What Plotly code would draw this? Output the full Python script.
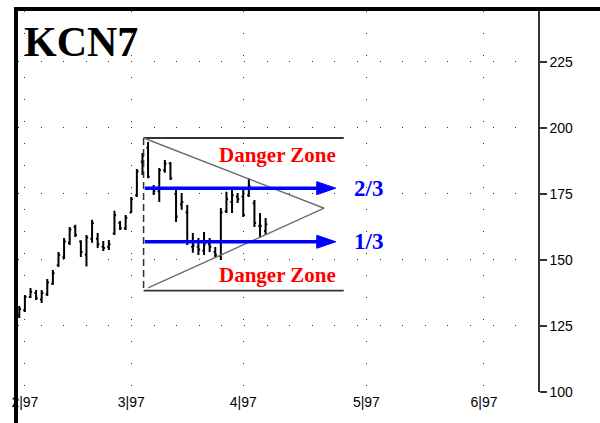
import plotly.graph_objects as go

# daily bars, index 0 = 31 Jan 1997 (trading days)
day = list(range(45))
bar_open = [129, 131, 136, 137.5, 135, 137, 141, 148, 151, 156.5,
            162.5, 157, 152, 158, 158, 155, 155, 160, 164, 162,
            168, 174.5, 187.2, 192.5, 177, 176, 184, 186.5, 175, 171,
            168, 155, 155, 153.5, 156, 153, 151.5, 168.5, 172, 174,
            174, 174.5, 171.5, 163, 161]
bar_high = [132.6, 136.7, 139.4, 138.6, 138.6, 142.8, 146.2, 153.0, 158.3, 162.5,
            163.3, 157.5, 159.5, 165.2, 160.2, 157.2, 157.6, 168.6, 164.8, 167.0,
            173.9, 184.5, 190.5, 194.7, 178.4, 184.8, 187.9, 187.1, 176.5, 175.4,
            170.8, 160.2, 158.3, 160.6, 158.3, 154.9, 169.7, 175.8, 176.5, 175.4,
            176.5, 181.0, 172.7, 167.8, 165.9]
bar_low = [128.0, 130.3, 135.6, 134.8, 133.7, 136.4, 140.5, 147.3, 150.4, 155.7,
           158.7, 151.1, 147.5, 156.5, 154.5, 153.4, 153.8, 159.5, 161.4, 161.4,
           167.8, 173.9, 182.2, 181.0, 174.6, 172.0, 183.0, 180.3, 164.4, 169.0,
           155.7, 152.7, 151.9, 151.9, 153.0, 150.8, 150.0, 167.8, 167.8, 171.6,
           166.3, 173.9, 162.5, 158.3, 159.5]
bar_close = [131.4, 136, 138, 135.5, 137.5, 141.5, 145, 152, 157, 161.5,
             159.5, 153, 158.5, 164, 156, 154.5, 156, 167, 162, 166,
             173, 183.5, 189.5, 181.5, 176, 184, 186.5, 181, 166.5, 172,
             157, 155.5, 154, 156, 155, 152, 168, 173, 174.5, 173,
             167, 178, 164, 163, 163.5]

month_pos = [1, 20, 40, 62, 83]
month_labels = ["2|97", "3|97", "4|97", "5|97", "6|97"]
price_ticks = [100, 125, 150, 175, 200, 225]

# triangle / box drawn on the chart
box_left, box_right = 22.2, 57.95
box_top, box_bottom = 196.2, 138.4
apex_x, apex_y = 54.45, 169.6
low_start_x, low_start_y = 23.0, 139.4

arrow_levels = [177.2, 156.9]
arrow_labels = ["2/3", "1/3"]
arrow_start, arrow_tip = 22.42, 56.53

fig = go.Figure()
fig.add_trace(go.Ohlc(
    x=day, open=bar_open, high=bar_high, low=bar_low, close=bar_close,
    increasing=dict(line=dict(color="black", width=2)),
    decreasing=dict(line=dict(color="black", width=2)),
    tickwidth=0.3, hoverinfo="skip",
))

shapes = []
gray = "#6e6e6e"
shapes.append(dict(type="line", x0=box_left, x1=box_right, y0=box_top, y1=box_top,
                   line=dict(color="#333", width=1.8)))
shapes.append(dict(type="line", x0=box_left, x1=box_right, y0=box_bottom, y1=box_bottom,
                   line=dict(color="#333", width=1.8)))
shapes.append(dict(type="line", x0=box_left, x1=box_left, y0=box_top, y1=box_bottom,
                   line=dict(color="#333", width=1.5, dash="7px,4px")))
shapes.append(dict(type="line", x0=box_left, x1=apex_x, y0=box_top, y1=apex_y,
                   line=dict(color=gray, width=1.4)))
shapes.append(dict(type="line", x0=low_start_x, x1=apex_x, y0=low_start_y, y1=apex_y,
                   line=dict(color=gray, width=1.4)))

for lvl in arrow_levels:
    shapes.append(dict(type="line", x0=arrow_start, x1=arrow_tip - 3.2, y0=lvl, y1=lvl,
                       line=dict(color="#0000ff", width=3.5)))
    shapes.append(dict(type="path", xsizemode="pixel", ysizemode="pixel",
                       xanchor=arrow_tip, yanchor=lvl,
                       path="M-19,-6.5 L0,0 L-19,6.5 Z",
                       fillcolor="#0000ff", line=dict(color="#0000ff", width=1)))

# black frame at top and left
shapes.append(dict(type="rect", xref="paper", yref="paper", x0=-0.0077, x1=0,
                   y0=-0.09, y1=1.0105, fillcolor="black", line=dict(width=0)))
shapes.append(dict(type="rect", xref="paper", yref="paper", x0=-0.0077, x1=1.12,
                   y0=1.0, y1=1.0105, fillcolor="black", line=dict(width=0)))

annotations = []
for lvl, lab in zip(arrow_levels, arrow_labels):
    annotations.append(dict(x=59.4, y=lvl, text="<b>" + lab + "</b>", showarrow=False,
                            xanchor="left", yanchor="middle",
                            font=dict(family="Liberation Serif", size=23, color="#0000ff")))
for yv in [189.8, 144.3]:
    annotations.append(dict(x=46.1, y=yv, text="<b>Danger Zone</b>", showarrow=False,
                            font=dict(family="Liberation Serif", size=21, color="#ff0000")))
annotations.append(dict(xref="paper", yref="paper", x=0.0077, y=0.918, text="<b>KCN7</b>",
                        showarrow=False, xanchor="left", yanchor="middle",
                        font=dict(family="Liberation Serif", size=42, color="black")))

fig.update_layout(
    width=600, height=423,
    margin=dict(l=16, r=62, t=11, b=31),
    paper_bgcolor="white", plot_bgcolor="white",
    showlegend=False,
    shapes=shapes, annotations=annotations,
    xaxis=dict(range=[-0.23, 92.65], tickvals=month_pos, ticktext=month_labels,
               showgrid=True, gridcolor="#333", gridwidth=1, griddash="1px,21px",
               zeroline=False, showline=False, ticks="",
               tickfont=dict(family="Arial", size=14, color="black"),
               rangeslider=dict(visible=False), fixedrange=True),
    yaxis=dict(range=[100, 244.3], side="right", tickvals=price_ticks,
               showgrid=True, gridcolor="#333", gridwidth=1, griddash="1px,21.6px",
               zeroline=False, showline=True, linecolor="#333", linewidth=1.5,
               ticks="outside", ticklen=7, tickcolor="#333", tickwidth=1.5,
               tickfont=dict(family="Arial", size=14, color="black"),
               fixedrange=True),
)

fig.write_html("out.html", config={"displayModeBar": False},
               post_script="document.body.style.margin='0';")
